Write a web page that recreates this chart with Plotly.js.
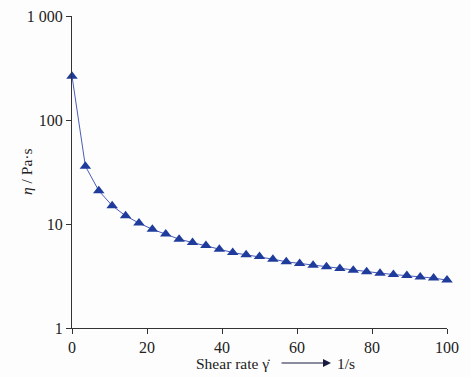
<!DOCTYPE html>
<html><head><meta charset="utf-8">
<script src="https://cdn.plot.ly/plotly-3.0.1.min.js"></script>
<style>html,body{margin:0;padding:0;background:#fdfdfd;}#c{width:471px;height:377px;}</style>
</head><body><div id="c"></div>
<script>
var shearRate = [0, 3.57, 7.14, 10.71, 14.29, 17.86, 21.43, 25, 28.57, 32.14, 35.71, 39.29, 42.86, 46.43, 50, 53.57, 57.14, 60.71, 64.29, 67.86, 71.43, 75, 78.57, 82.14, 85.71, 89.29, 92.86, 96.43, 100];
var viscosity = [264, 36, 20.9, 15.0, 12.0, 10.2, 8.9, 8.0, 7.15, 6.63, 6.2, 5.73, 5.31, 5.05, 4.87, 4.59, 4.33, 4.17, 4.02, 3.88, 3.73, 3.60, 3.47, 3.37, 3.27, 3.20, 3.09, 3.02, 2.89];
var xTicks = [0, 20, 40, 60, 80, 100];
var yTickVals = [1, 10, 100, 1000];
var yTickText = ['1', '10', '100', '1 000'];

var W = 471, H = 377, L = 72, R = 24, T = 16, B = 49;
function px(x){ return (x - L) / (W - L - R); }
function py(y){ return (H - B - y) / (H - T - B); }
var font = {family: 'Liberation Serif, Times New Roman, serif', size: 16, color: '#222'};
var tfont = {family: 'Liberation Serif, Times New Roman, serif', size: 15.5, color: '#222'};

var data = [{
  x: shearRate, y: viscosity, type: 'scatter', mode: 'lines+markers',
  line: {color: '#4a5cb8', width: 1},
  marker: {symbol: 'triangle-up', size: 10, color: '#1f3c9c'},
  cliponaxis: false
}];
var layout = {
  width: W, height: H,
  margin: {l: L, r: R, t: T, b: B},
  paper_bgcolor: '#fdfdfd', plot_bgcolor: '#fdfdfd',
  showlegend: false,
  font: font,
  xaxis: {range: [0, 100], tickvals: xTicks, ticks: 'outside', ticklen: 5, tickcolor: '#333',
    showline: true, linecolor: '#333', linewidth: 1, showgrid: false, zeroline: false, tickfont: font},
  yaxis: {type: 'log', range: [0, 3], tickvals: yTickVals, ticktext: yTickText, ticks: 'outside', ticklen: 5,
    tickcolor: '#333', showline: true, linecolor: '#333', linewidth: 1, showgrid: false, zeroline: false, tickfont: font},
  annotations: [
    {xref: 'paper', yref: 'paper', x: px(26), y: py(172), text: '<i>η</i> / Pa·s', textangle: -90,
      showarrow: false, font: tfont, xanchor: 'center', yanchor: 'middle'},
    {xref: 'paper', yref: 'paper', x: px(233), y: py(363), text: 'Shear rate γ̇', showarrow: false, font: tfont,
      xanchor: 'center', yanchor: 'middle'},
    {xref: 'paper', yref: 'paper', x: px(331), y: py(363), ax: -51, ay: 0, text: '', showarrow: true,
      arrowhead: 2, arrowsize: 1.6, arrowwidth: 1, arrowcolor: '#1a1a40'},
    {xref: 'paper', yref: 'paper', x: px(335), y: py(363), text: '1/s', showarrow: false, font: tfont,
      xanchor: 'left', yanchor: 'middle'}
  ]
};
Plotly.newPlot('c', data, layout, {displayModeBar: false, staticPlot: true});
</script></body></html>
